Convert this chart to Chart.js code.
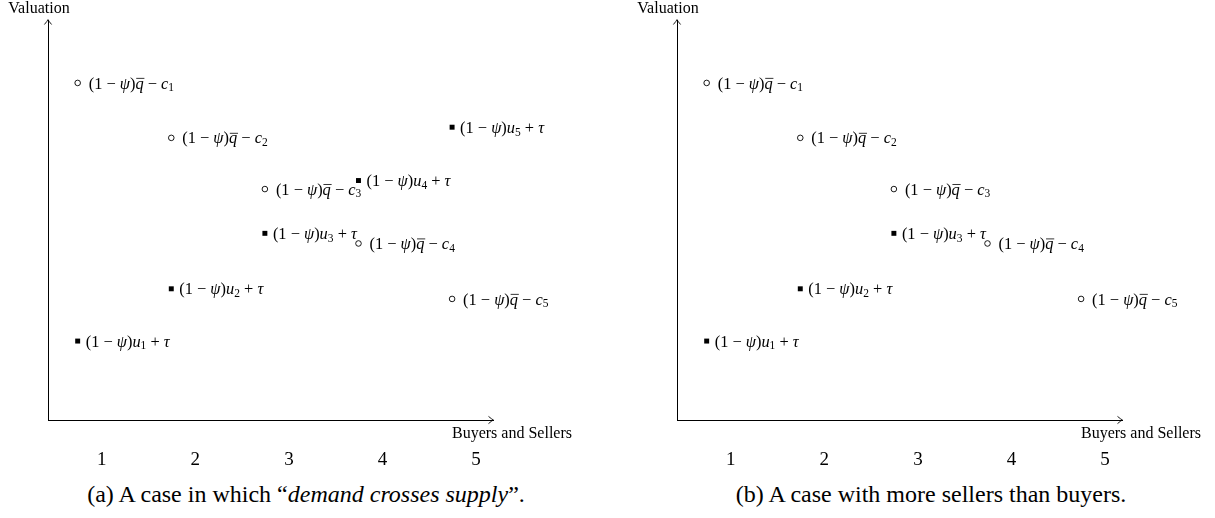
<!DOCTYPE html>
<html lang="en">
<head>
<meta charset="utf-8">
<title>Valuation</title>
<script src="https://cdn.jsdelivr.net/npm/chart.js@4.4.0/dist/chart.umd.min.js"></script>
<style>
  html, body { margin: 0; padding: 0; background: #fff; }
  body { width: 1215px; height: 518px; position: relative; overflow: hidden; }
  canvas { position: absolute; top: 0; }
  #chartA { left: 0; }
  #chartB { left: 629px; }
  .caption { position: absolute; top: 480px; height: 28px; line-height: 28px; text-align: center;
             font-family: "Liberation Serif", serif; font-size: 24px; color: #000; white-space: nowrap; }
</style>
</head>
<body>
<canvas id="chartA" width="586" height="480"></canvas>
<canvas id="chartB" width="586" height="480"></canvas>
<div class="caption" style="left:0;width:612px">(a) A case in which “<i>demand crosses supply</i>”.</div>
<div class="caption" style="left:629px;width:604px">(b) A case with more sellers than buyers.</div>
<script>
// Datos
const posiciones = [1, 2, 3, 4, 5];
const etiquetasEje = ['1', '2', '3', '4', '5'];

// (a) la demanda cruza la oferta
const vendedoresA = [6.32, 5.29, 4.33, 3.31, 2.27];
const compradoresA = [1.48, 2.46, 3.5, 4.49, 5.49];

// (b) más vendedores que compradores
const vendedoresB = [6.32, 5.29, 4.33, 3.31, 2.27];
const compradoresB = [1.48, 2.46, 3.5];

// "_" marca subíndice, \u0304 la barra sobre la q
const textosVendedores = [
    '(1 − ψ)q\u0304 − c_1', '(1 − ψ)q\u0304 − c_2', '(1 − ψ)q\u0304 − c_3',
    '(1 − ψ)q\u0304 − c_4', '(1 − ψ)q\u0304 − c_5'
];
const textosCompradores = [
    '(1 − ψ)u_1 + τ', '(1 − ψ)u_2 + τ', '(1 − ψ)u_3 + τ',
    '(1 − ψ)u_4 + τ', '(1 − ψ)u_5 + τ'
];

const FUENTE = '"Liberation Serif", serif';

// Escribe una fórmula sencilla: letras en cursiva, números en redonda
function dibujarFormula(ctx, texto, x, y, tam) {
    let cx = x;
    let previo = null;
    for (let k = 0; k < texto.length; k++) {
        let ch = texto[k];
        if (ch === '\u0304') {
            ctx.beginPath();
            ctx.lineWidth = 0.8;
            ctx.moveTo(previo.x0 + tam * 0.05, y - tam * 0.62);
            ctx.lineTo(previo.x1 + tam * 0.05, y - tam * 0.62);
            ctx.stroke();
            continue;
        }
        let sub = false;
        if (ch === '_') { sub = true; ch = texto[++k]; }
        const cursiva = /[a-zψτ]/.test(ch);
        const t = sub ? tam * 0.7 : tam;
        ctx.font = (cursiva ? 'italic ' : '') + t + 'px ' + FUENTE;
        const w = ctx.measureText(ch).width;
        ctx.fillText(ch, cx, sub ? y + tam * 0.17 : y);
        previo = { x0: cx, x1: cx + w };
        cx += w;
    }
}

// Punta de flecha tipo TikZ
function flecha(ctx, x, y, ang) {
    ctx.save();
    ctx.translate(x, y);
    ctx.rotate(ang);
    ctx.beginPath();
    ctx.moveTo(-4.5, -3.6);
    ctx.quadraticCurveTo(-1.2, -0.8, 0.4, 0);
    ctx.quadraticCurveTo(-1.2, 0.8, -4.5, 3.6);
    ctx.lineWidth = 0.9;
    ctx.stroke();
    ctx.restore();
}

const decoracion = {
    id: 'decoracion',
    afterDraw(chart) {
        const ctx = chart.ctx;
        const area = chart.chartArea;
        ctx.save();
        ctx.strokeStyle = '#000';
        ctx.fillStyle = '#000';
        flecha(ctx, area.right, area.bottom, 0);
        flecha(ctx, area.left, area.top, -Math.PI / 2);

        // títulos de los ejes
        ctx.font = '16px ' + FUENTE;
        ctx.textBaseline = 'alphabetic';
        ctx.textAlign = 'center';
        ctx.fillText('Valuation', area.left - 9, 13);
        ctx.textAlign = 'left';
        ctx.fillText('Buyers and Sellers', area.right - 41, area.bottom + 18);

        // etiquetas junto a cada punto
        chart.data.datasets.forEach((ds, d) => {
            chart.getDatasetMeta(d).data.forEach((pt, i) => {
                dibujarFormula(ctx, ds.textos[i], pt.x + ds.separacion, pt.y + 5.6, 16.4);
            });
        });
        ctx.restore();
    }
};

function crearGrafico(id, vendedores, compradores) {
    return new Chart(document.getElementById(id), {
        type: 'scatter',
        data: {
            datasets: [
                {
                    data: vendedores.map((v, i) => ({ x: posiciones[i], y: v })),
                    textos: textosVendedores,
                    separacion: 11,
                    pointStyle: 'circle',
                    pointRadius: 2.8,
                    pointBorderWidth: 0.9,
                    pointBackgroundColor: '#fff',
                    pointBorderColor: '#000'
                },
                {
                    data: compradores.map((v, i) => ({ x: posiciones[i], y: v })),
                    textos: textosCompradores,
                    separacion: 8,
                    pointStyle: 'rect',
                    pointRadius: 3.5,
                    pointBorderWidth: 0,
                    pointBackgroundColor: '#000',
                    pointBorderColor: '#000'
                }
            ]
        },
        options: {
            responsive: false,
            animation: false,
            events: [],
            layout: { padding: { left: 48, right: 93, top: 20, bottom: 0 } },
            plugins: { legend: { display: false }, tooltip: { enabled: false } },
            scales: {
                x: {
                    type: 'linear',
                    min: 0.683,
                    max: 5.437,
                    afterBuildTicks: s => { s.ticks = posiciones.map(v => ({ value: v })); },
                    afterFit: s => { s.height = 60; },
                    grid: { display: false, drawTicks: false },
                    border: { display: true, color: '#000', width: 1 },
                    ticks: {
                        autoSkip: false,
                        maxRotation: 0,
                        padding: 29,
                        labelOffset: 24,
                        color: '#000',
                        font: { family: FUENTE, size: 19 },
                        callback: (v, i) => etiquetasEje[i]
                    }
                },
                y: {
                    min: 0,
                    max: 7.5,
                    afterFit: s => { s.width = 0; },
                    grid: { display: false, drawTicks: false },
                    border: { display: true, color: '#000', width: 1 },
                    ticks: { display: false }
                }
            }
        },
        plugins: [decoracion]
    });
}

crearGrafico('chartA', vendedoresA, compradoresA);
crearGrafico('chartB', vendedoresB, compradoresB);
</script>
</body>
</html>
